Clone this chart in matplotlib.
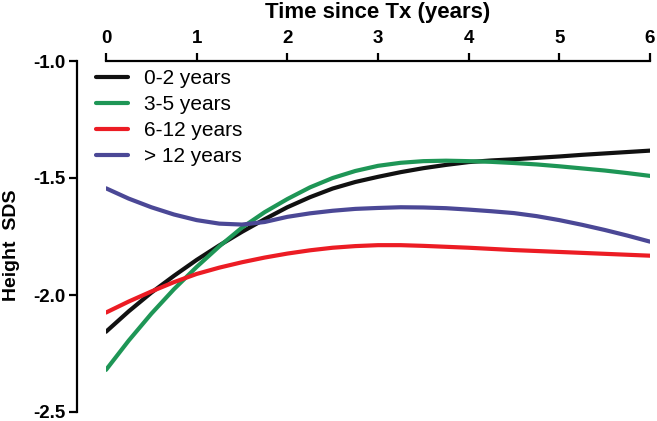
import numpy as np
import matplotlib
matplotlib.use('Agg')
import matplotlib.pyplot as plt

plt.rcParams['font.family'] = ['Liberation Sans', 'DejaVu Sans']

# time since Tx (years)
years = [0, 0.25, 0.5, 0.75, 1.0, 1.25, 1.5, 1.75, 2.0, 2.25, 2.5, 2.75, 3.0,
         3.25, 3.5, 3.75, 4.0, 4.25, 4.5, 4.75, 5.0, 5.25, 5.5, 5.75, 6.0]

# height SDS per age group at transplant
sds_0_2 = [-2.157, -2.07, -1.99, -1.918, -1.85, -1.788, -1.73, -1.676, -1.625, -1.582, -1.545, -1.517, -1.495,
           -1.475, -1.458, -1.444, -1.432, -1.425, -1.420, -1.414, -1.408, -1.401, -1.395, -1.389, -1.383]
sds_3_5 = [-2.32, -2.195, -2.08, -1.975, -1.88, -1.792, -1.712, -1.646, -1.59, -1.54, -1.50, -1.47, -1.448,
           -1.435, -1.428, -1.426, -1.428, -1.431, -1.436, -1.442, -1.450, -1.459, -1.468, -1.479, -1.491]
sds_6_12 = [-2.075, -2.028, -1.985, -1.945, -1.91, -1.883, -1.86, -1.84, -1.823, -1.809, -1.798, -1.791, -1.787,
            -1.787, -1.790, -1.794, -1.798, -1.803, -1.808, -1.812, -1.816, -1.820, -1.824, -1.828, -1.832]
sds_12p = [-1.544, -1.588, -1.625, -1.656, -1.680, -1.695, -1.699, -1.688, -1.666, -1.651, -1.640, -1.632, -1.628,
           -1.625, -1.626, -1.629, -1.635, -1.642, -1.650, -1.663, -1.680, -1.700, -1.722, -1.746, -1.772]

labels = ['0-2 years', '3-5 years', '6-12 years', '> 12 years']
colors = ['#111111', '#1e9656', '#ec1c24', '#4b4896']

fig = plt.figure(figsize=(6.57, 4.21), dpi=100)
ax = fig.add_axes([106/657, 1 - 412/421, 544/657, 351/421])

for ys, lab, c in zip([sds_0_2, sds_3_5, sds_6_12, sds_12p], labels, colors):
    ax.plot(years, ys, color=c, lw=3, label=lab, solid_capstyle='round')

ax.set_xlim(0, 6)
ax.set_ylim(-2.5, -1.0)
ax.set_xticks(range(7))
ax.set_yticks([-1.0, -1.5, -2.0, -2.5])
ax.set_yticklabels(['-1.0', '-1.5', '-2.0', '-2.5'])

ax.xaxis.tick_top()
ax.xaxis.set_label_position('top')
ax.spines['right'].set_visible(False)
ax.spines['bottom'].set_visible(False)
ax.spines['left'].set_position(('outward', 21))
for s in ['top', 'left']:
    ax.spines[s].set_linewidth(1.6)

ax.tick_params(axis='both', width=1.6, length=6, labelsize=13.5)
ax.tick_params(axis='x', pad=4)
ax.tick_params(axis='y', pad=2)
for t in ax.get_xticklabels() + ax.get_yticklabels():
    t.set_fontweight('bold')

ax.set_xlabel('Time since Tx (years)', fontsize=16, fontweight='bold', labelpad=8.5)
ax.set_ylabel('Height  SDS', fontsize=14, fontweight='bold')
ax.yaxis.set_label_coords(-0.158, 0.476)

ax.legend(loc='upper left', bbox_to_anchor=(-0.034, 1.0), frameon=False,
          fontsize=15, handlelength=1.55, handletextpad=0.75, labelspacing=0.33,
          borderaxespad=0)

plt.savefig('out.png', dpi=100)
